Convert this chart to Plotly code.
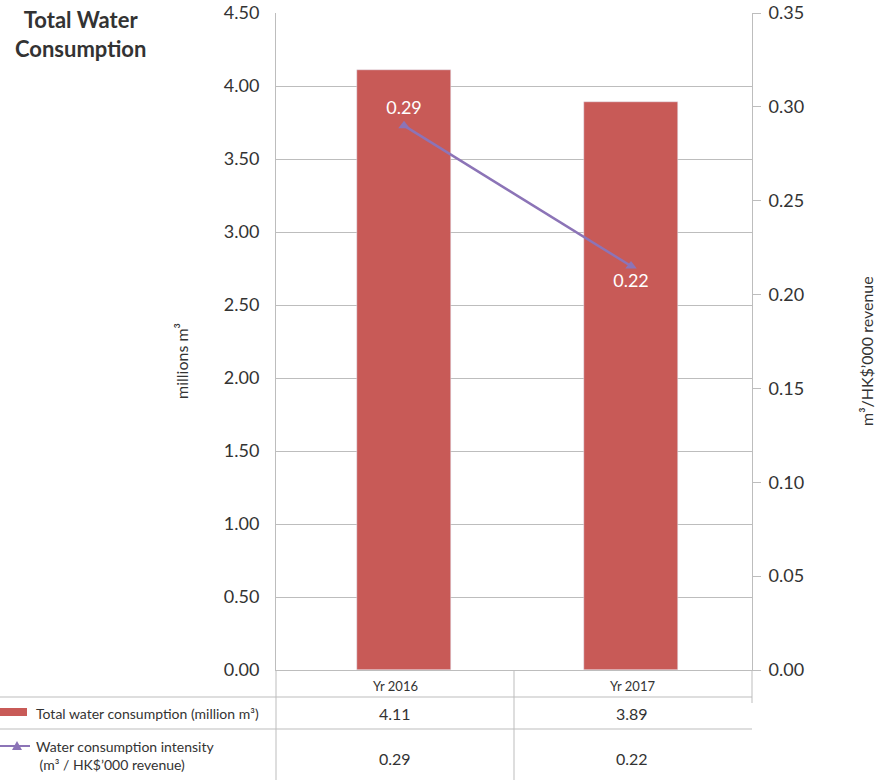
import plotly.graph_objects as go

# ---- data ----
years = ["Yr 2016", "Yr 2017"]
consumption = [4.11, 3.89]          # million m3
intensity = [0.29, 0.2152]          # m3 / HK$'000 revenue
series_labels = ["Total water consumption (million m³)",
                 "Water consumption intensity<br> (m³ / HK$’000 revenue)"]
left_ticks = [0, 0.5, 1.0, 1.5, 2.0, 2.5, 3.0, 3.5, 4.0, 4.5]
right_ticks = [0, 0.05, 0.10, 0.15, 0.20, 0.25, 0.30, 0.35]

BAR = "#C85A57"
PURPLE = "#8C74B7"
GRID = "#BDBDBD"
TXT = "#333333"
FONT = "Lato"

W, H = 886, 780
L, R, T, B = 276, 134, 13, 110
PW, PH = W - L - R, H - T - B


def px(xp):
    return (xp - L) / PW


def py(yp):
    return (H - B - yp) / PH


fig = go.Figure()
fig.add_trace(go.Bar(x=years, y=consumption, marker_color=BAR, width=0.414,
                     yaxis="y", hoverinfo="skip"))
fig.add_trace(go.Scatter(x=years, y=intensity, yaxis="y2",
                         mode="lines+markers+text",
                         text=[f"{v:.2f}" for v in intensity],
                         textposition=["top center", "bottom center"],
                         textfont=dict(color="white", size=18, family=FONT),
                         line=dict(color=PURPLE, width=2.5),
                         marker=dict(symbol="triangle-up", size=10, color=PURPLE),
                         cliponaxis=False))

shapes = []
line_style = dict(color=GRID, width=1)
# table horizontal lines
for yp in (697, 729):
    shapes.append(dict(type="line", xref="paper", yref="paper",
                       x0=px(0), x1=1, y0=py(yp), y1=py(yp), line=line_style))
# table vertical lines
for xp_, ybot in ((276, 780), (514, 780), (752, 703)):
    shapes.append(dict(type="line", xref="paper", yref="paper",
                       x0=px(xp_), x1=px(xp_), y0=0, y1=py(ybot), line=line_style))
# legend key: bar
shapes.append(dict(type="rect", xref="paper", yref="paper",
                   x0=px(0), x1=px(27), y0=py(708), y1=py(716),
                   fillcolor=BAR, line=dict(width=0)))
# legend key: line + triangle
shapes.append(dict(type="line", xref="paper", yref="paper",
                   x0=px(0), x1=px(30), y0=py(746), y1=py(746),
                   line=dict(color=PURPLE, width=2)))
tri = f"M {px(12)},{py(750)} L {px(22)},{py(750)} L {px(17)},{py(741)} Z"
shapes.append(dict(type="path", xref="paper", yref="paper", path=tri,
                   fillcolor=PURPLE, line=dict(width=0)))


def ann(text, xp, yp, size, xanchor="center", yanchor="middle", align="center", angle=0,
        bold=False):
    return dict(text=text, xref="paper", yref="paper", x=px(xp), y=py(yp),
                xanchor=xanchor, yanchor=yanchor, align=align, textangle=angle,
                showarrow=False, font=dict(size=size, color=TXT, family=FONT))


annotations = []
# title
annotations.append(ann("<b>Total Water<br>Consumption</b>", 80, 4, 22, yanchor="top"))
# axis titles
annotations.append(ann("millions m³", 181, 361, 16, angle=-90))
annotations.append(ann("m³/HK$’000 revenue", 866, 351, 16, angle=-90))
# table: column headers and values
col_x = [395, 632]
for i, yr in enumerate(years):
    annotations.append(ann(yr, col_x[i], 686, 13))
    annotations.append(ann(f"{consumption[i]:.2f}", col_x[i], 713, 16))
    annotations.append(ann(f"{intensity[i]:.2f}", col_x[i], 758, 16))
# table: row labels
annotations.append(ann(series_labels[0], 34, 713, 14, xanchor="left", align="left"))
annotations.append(ann(series_labels[1], 34, 755, 14, xanchor="left", align="left"))

fig.update_layout(
    width=W, height=H, autosize=False,
    margin=dict(l=L, r=R, t=T, b=B, pad=0),
    paper_bgcolor="white", plot_bgcolor="white",
    showlegend=False, bargap=0,
    font=dict(family=FONT, color=TXT),
    xaxis=dict(type="category", range=[-0.564, 1.533], showline=True, linecolor=GRID,
               linewidth=1, showticklabels=False, ticks="", showgrid=False, zeroline=False,
               automargin=False),
    yaxis=dict(range=[0, 4.5], tickvals=left_ticks, tickformat=".2f", showgrid=True,
               gridcolor=GRID, gridwidth=1, showline=True, linecolor=GRID, zeroline=False,
               ticks="", ticklabelstandoff=12, automargin=False,
               tickfont=dict(size=18, color=TXT, family=FONT)),
    yaxis2=dict(range=[0, 0.35], tickvals=right_ticks, tickformat=".2f", overlaying="y",
                side="right", showgrid=False, showline=True, linecolor=GRID, zeroline=False,
                ticks="outside", ticklen=8, tickcolor=GRID, ticklabelstandoff=4,
                automargin=False, tickfont=dict(size=18, color=TXT, family=FONT)),
    shapes=shapes, annotations=annotations,
)

fig.write_html("out.html")
